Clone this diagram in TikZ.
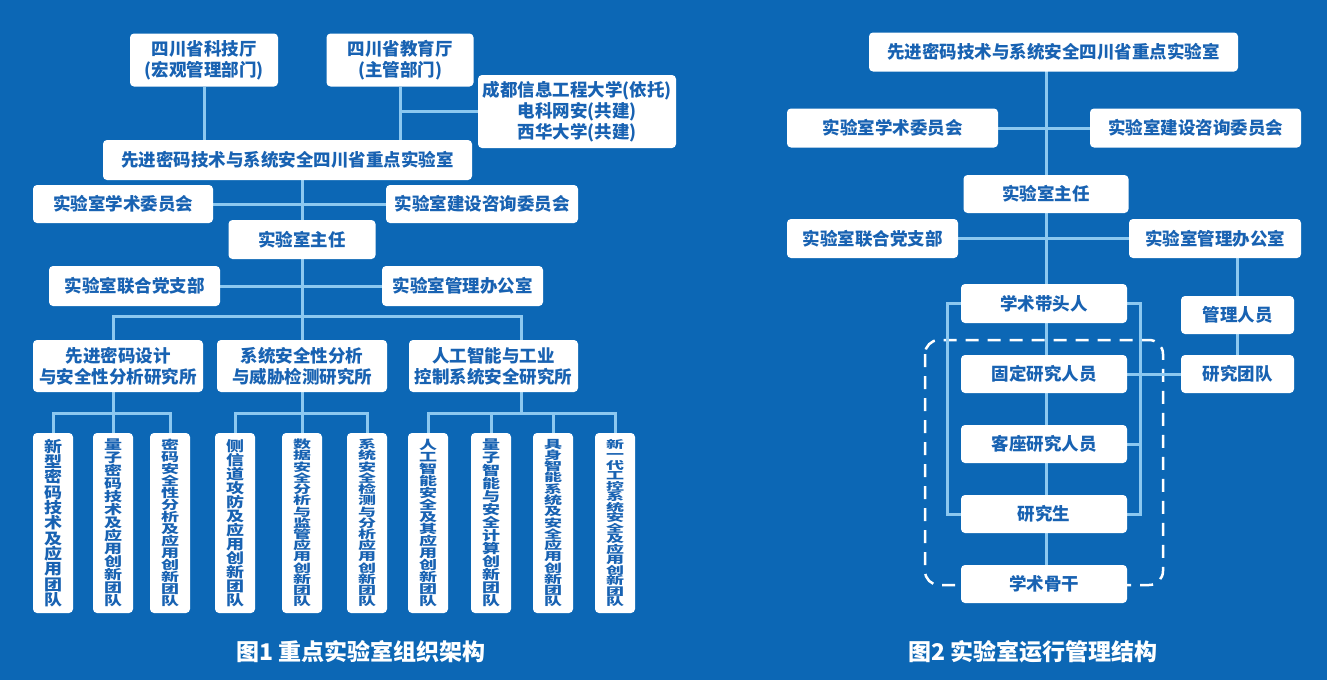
\documentclass[tikz,border=0pt]{standalone}
\usepackage{fontspec}
\setmainfont{Noto Sans CJK SC}
\usepackage{graphicx}
\usetikzlibrary{backgrounds}

\definecolor{bgblue}{RGB}{12,103,181}
\definecolor{linkblue}{RGB}{140,200,240}
\definecolor{txtblue}{RGB}{24,98,178}

% stacked (vertical) text for the team boxes
\makeatletter
\newcommand\vstack[1]{\resizebox*{18pt}{168pt}{\parbox[b]{15pt}{\centering\fontsize{15}{15}\selectfont\@tfor\vch:=#1\do{\vch\par}}}}
\makeatother

\begin{document}
\begin{tikzpicture}[
  x=1pt, y=-1pt,
  box/.style={
    fill=white,
    rounded corners=4pt,
    text=txtblue,
    align=center,
    inner sep=0pt,
    font=\bfseries\fontsize{17.5}{21}\selectfont
  },
  team/.style={box, minimum width=40pt, minimum height=180pt},
  link/.style={draw=linkblue, line width=3pt},
  dashbox/.style={draw=white, line width=2.5pt, dash pattern=on 13pt off 9pt, rounded corners=14pt},
  figcap/.style={text=white, font=\bfseries\fontsize{23}{27}\selectfont}
]
\useasboundingbox (0,0) rectangle (1327,680);
\begin{scope}[on background layer]
  \fill[bgblue] (0,0) rectangle (1327,680);
\end{scope}

% Fig 1: organisation
\node[box,minimum width=148pt,minimum height=53pt] (kjt) at (204,60) {四川省科技厅\\(宏观管理部门)};
\node[box,minimum width=147pt,minimum height=53pt] (jyt) at (400,60) {四川省教育厅\\(主管部门)};
\node[box,minimum width=198pt,minimum height=73pt] (cd) at (577,111.5) {成都信息工程大学(依托)\\电科网安(共建)\\西华大学(共建)};
\node[box,minimum width=369pt,minimum height=40pt] (lab) at (287.5,160) {先进密码技术与系统安全四川省重点实验室};
\node[box,minimum width=180pt,minimum height=38pt] (xswy) at (123,204) {实验室学术委员会};
\node[box,minimum width=192pt,minimum height=38pt] (jszx) at (482,204) {实验室建设咨询委员会};
\node[box,minimum width=147pt,minimum height=39pt] (zr) at (302,239.5) {实验室主任};
\node[box,minimum width=171pt,minimum height=40pt] (dzb) at (134.5,286) {实验室联合党支部};
\node[box,minimum width=161pt,minimum height=40pt] (bgs) at (462.5,286) {实验室管理办公室};

\node[box,minimum width=170pt,minimum height=52pt] (inst1) at (118,366) {先进密码设计\\与安全性分析研究所};
\node[box,minimum width=170pt,minimum height=52pt] (inst2) at (302,366) {系统安全性分析\\与威胁检测研究所};
\node[box,minimum width=169pt,minimum height=52pt] (inst3) at (493.5,366) {人工智能与工业\\控制系统安全研究所};

\node[team] (tm1) at (53,523) {\vstack{新型密码技术及应用团队}};
\node[team] (tm2) at (113,523) {\vstack{量子密码技术及应用创新团队}};
\node[team] (tm3) at (170,523) {\vstack{密码安全性分析及应用创新团队}};
\node[team] (tm4) at (235,523) {\vstack{侧信道攻防及应用创新团队}};
\node[team] (tm5) at (302,523) {\vstack{数据安全分析与监管应用创新团队}};
\node[team] (tm6) at (367,523) {\vstack{系统安全检测与分析应用创新团队}};
\node[team] (tm7) at (428,523) {\vstack{人工智能安全及其应用创新团队}};
\node[team] (tm8) at (491,523) {\vstack{量子智能与安全计算创新团队}};
\node[team] (tm9) at (553,523) {\vstack{具身智能系统及安全应用创新团队}};
\node[team] (tm10) at (615,523) {\vstack{新一代工控系统安全及应用创新团队}};

\coordinate (ibus) at (521,316);
\coordinate (tbus) at (0,413);

\begin{scope}[on background layer]
  \draw[link] (kjt) -- (kjt |- lab);
  \draw[link] (jyt) -- (jyt |- lab);
  \draw[link] (cd) -- (cd -| jyt);
  \draw[link] (zr |- lab) -- (zr |- inst2);
  \draw[link] (xswy) -- (jszx);
  \draw[link] (dzb) -- (bgs);
  \draw[link] (tm2) -- (tm2 |- ibus) -- (ibus) -- (ibus |- tbus);
  \draw[link] (inst2) -- (tm5);
  \draw[link] (tm1) -- (tm1 |- tbus) -- (tm3 |- tbus) -- (tm3);
  \draw[link] (tm4) -- (tm4 |- tbus) -- (tm6 |- tbus) -- (tm6);
  \draw[link] (tm7) -- (tm7 |- tbus) -- (tm10 |- tbus) -- (tm10);
  \draw[link] (tm8) -- (tm8 |- tbus);
  \draw[link] (tm9) -- (tm9 |- tbus);
\end{scope}

% Fig 2: operation
\node[box,minimum width=369pt,minimum height=39pt] (lab2) at (1053.5,52) {先进密码技术与系统安全四川省重点实验室};
\node[box,minimum width=211pt,minimum height=39pt] (xswy2) at (892.5,128) {实验室学术委员会};
\node[box,minimum width=211pt,minimum height=39pt] (jszx2) at (1195.5,128) {实验室建设咨询委员会};
\node[box,minimum width=165pt,minimum height=38pt] (zr2) at (1046,194) {实验室主任};
\node[box,minimum width=171pt,minimum height=39pt] (dzb2) at (872.5,238.5) {实验室联合党支部};
\node[box,minimum width=172pt,minimum height=39pt] (bgs2) at (1215,238.5) {实验室管理办公室};

\node[box,minimum width=166pt,minimum height=39pt] (dtr) at (1044,303.5) {学术带头人};
\node[box,minimum width=166pt,minimum height=38pt] (gdry) at (1044,374) {固定研究人员};
\node[box,minimum width=166pt,minimum height=38pt] (kzry) at (1044,444) {客座研究人员};
\node[box,minimum width=166pt,minimum height=38pt] (yjs) at (1044,514) {研究生};
\node[box,minimum width=166pt,minimum height=38pt] (gg) at (1044,584) {学术骨干};
\node[box,minimum width=113pt,minimum height=38pt] (glry) at (1237.5,315) {管理人员};
\node[box,minimum width=113pt,minimum height=38pt] (yjtd) at (1237.5,374) {研究团队};

\coordinate (lbr) at (947,0);
\coordinate (rbr) at (1140,0);

\begin{scope}[on background layer]
  \draw[dashbox] (925,340) rectangle (1163,585);
  \draw[link] (lab2 -| zr2) -- (gg -| zr2);
  \draw[link] (xswy2) -- (jszx2);
  \draw[link] (dzb2) -- (bgs2);
  \draw[link] (glry |- bgs2) -- (yjtd);
  \draw[link] (dtr) -- (dtr -| lbr) -- (yjs -| lbr) -- (yjs);
  \draw[link] (dtr) -- (dtr -| rbr) -- (yjs -| rbr) -- (yjs);
  \draw[link] (kzry) -- (kzry -| rbr);
  \draw[link] (gdry) -- (yjtd);
\end{scope}

% captions
\node[figcap] (cap1) at (361,652) {图1\ 重点实验室组织架构};
\node[figcap] (cap2) at (1033,652) {图2\ 实验室运行管理结构};

\end{tikzpicture}
\end{document}
